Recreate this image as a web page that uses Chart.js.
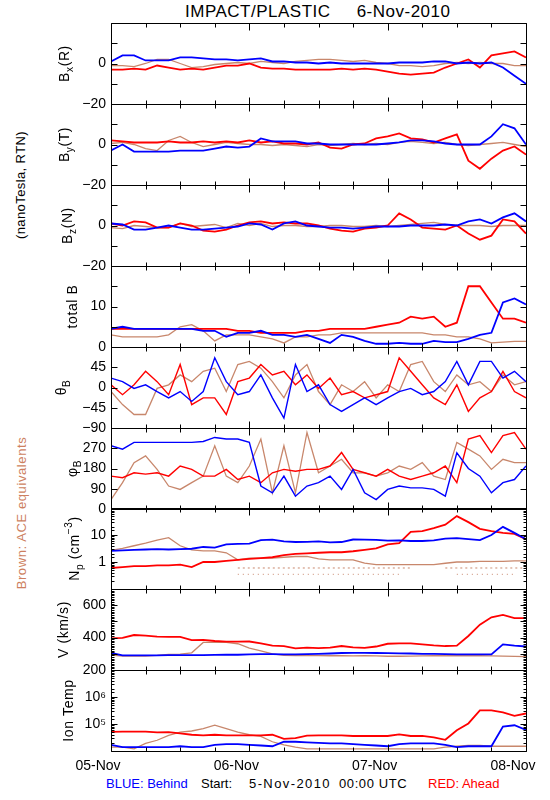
<!DOCTYPE html>
<html>
<head>
<meta charset="utf-8">
<script src="https://cdn.jsdelivr.net/npm/chart.js@4.4.1/dist/chart.umd.min.js"></script>
<style>
  body { margin: 0; background: #fff; }
  #page { position: relative; width: 550px; height: 800px; background: #fff; overflow: hidden;
          font-family: 'Liberation Sans', Arial, sans-serif; color: #000; }
  #page canvas { position: absolute; left: 0; }
  .txt { position: absolute; white-space: pre; font-size: 13px; line-height: 13px; }
  .vtxt { position: absolute; white-space: pre; font-size: 13px; line-height: 13px;
          transform: translate(-50%, -50%) rotate(-90deg); }
</style>
</head>
<body>
<div id="page">
  <div class="txt" style="left:185px;top:3px;font-size:17px;line-height:17px;letter-spacing:0.5px;">IMPACT/PLASTIC     6-Nov-2010</div>
  <div class="vtxt" style="left:20px;top:185px;letter-spacing:0.4px;">(nanoTesla, RTN)</div>
  <div class="vtxt" style="left:21px;top:513px;letter-spacing:0.6px;color:#cd7f5f;">Brown: ACE equivalents</div>
  <div class="txt" style="left:106px;top:777px;color:#0000ff;">BLUE: Behind</div>
  <div class="txt" style="left:201px;top:777px;">Start:</div>
  <div class="txt" style="left:249px;top:777px;letter-spacing:1.4px;">5-Nov-2010</div>
  <div class="txt" style="left:339px;top:777px;letter-spacing:0.6px;">00:00 UTC</div>
  <div class="txt" style="left:428px;top:777px;color:#ff0000;">RED: Ahead</div>
</div>
<script>
(function(){
  'use strict';

  // hours since 5-Nov-2010 00:00 UTC
  const hours = [0,2,4,6,8,10,12,14,16,18,20,22,24,26,28,30,32,34,36,38,40,42,44,46,48,50,52,54,56,58,60,62,64,66,68,70,72];
  const dayLabels = ['05-Nov', '06-Nov', '07-Nov', '08-Nov'];
  const xTickHours = [0,6,12,18,24,30,36,42,48,54,60,66,72];

  // B_x (R), nT
  const stbBx = [1,4,4,1.5,1.5,1.5,3,3,2.5,2,2,1.5,2,2.5,1,1,0.5,0.5,0,0.5,0,0,0,0,0,0.5,0.5,0.5,1,1,0,0.5,0,0.5,-2,-6,-10];
  const staBx = [-3,-3,-2.5,-3,-1,-2,-3,-2.5,-3,-2,-1,-1,0,-2,-2.5,-2.5,-3,-3,-3,-3,-2.5,-3,-2.5,-3,-4,-5,-5.5,-5,-4.5,-2,0,2,-2,4,5,6,3];
  const aceBx = [-1,-1,-1.5,0,2,2,0,-2,-1.5,-0.5,0,0.5,0,1,0.5,0,1,1.5,2,2,1.5,1,1.5,0.5,0,-1,-1,-1.5,-1,0,0.5,0,0.5,0,0,-1,-1];

  // B_y (T)
  const stbBy = [-3,0,-3.5,-3.5,-3.5,-3.5,-3,-3,-3,-2,-1,-1.5,-1,3,1.5,1.5,1.5,0.5,0.5,0,0,0,0,0,0.5,1,2,2,1.5,0.5,0,0,0,4,10,8,0];
  const staBy = [2,1.5,1,1,1,1.5,1,1,1.5,1,1.5,1,2,1,1.5,0.5,0.5,0,1,-1.5,-2,0,0.5,3,4,5.5,3,2.5,1,3,5,-8,-12,-7,-3,-1,-5];
  const aceBy = [0.5,1,0,-2,-3,2,4,1,-1,0,1,0.5,0,0,-0.5,0,-0.5,-1,0,-0.5,0,0.5,0,0.5,0,1,1.5,1,0.5,1,0,-0.5,0,0.5,1,0,-1];

  // B_z (N)
  const stbBz = [1,0.5,-2,-2,-1,0,-1,-2,-2,-1.5,-1,-0.5,1,0.5,-2,1,2,0,-0.5,-1,-1,-1.5,-1,-0.5,-0.5,-0.5,0,0,0,0.5,0,2,3,1,4,6,2];
  const staBz = [1,0,2,1.5,-1,-1,1,0,-2.5,-3,-2,0,1.5,2,1,1.5,1,1,0,-1.5,-2.5,-3,-1.5,-1,0,6,3,-1,-1.5,-2,0,-4,-7,-5,3,2,-4];
  const aceBz = [-1,-1.5,0,-0.5,-1,-1,1,-0.5,0,0.5,-1,1,0,1,-0.5,0,0,-0.5,-0.5,0,0,-0.5,-0.5,0,-0.5,0,0.5,1,1.5,0.5,0,0,0,-0.5,0,0,0];

  // total B
  const stbB = [4.5,5,4.5,4.5,4.5,4.5,4.5,4.5,4,4,2.5,3.5,3.5,4,3,3,2.5,3,2,1,3,2.5,1.5,0.8,0.8,1,0.8,0.8,1.5,1.2,1.2,2,3,3.5,11,12,10.5];
  const staB = [4.5,4.5,4.5,4.5,4.5,4.5,4.5,4.5,4.5,4.5,4.5,4,4,3.5,3.5,3.5,3.5,4,4,4.5,4.5,4.5,4.5,5,5.5,6,7.5,7,7.5,5,6,15,15,11,7,7,6];
  const aceB = [3,2.5,2.5,2.5,2.5,3,5,5.5,4,1.5,3,3,3,2.5,2,1,2.5,2.5,3,3,3.5,3.5,3.5,3.5,3.5,3.5,3.5,3.5,3,3,2.5,2.5,2,1,1.2,1.4,1.4];

  // theta_B, deg
  const stbTheta = [21,13,-2,6,-9,-23,-9,-31,-9,66,13,-16,-9,28,-23,-68,51,-9,6,-38,-53,-38,-23,-38,-23,-9,-2,-16,-9,13,58,6,58,58,21,36,13];
  const staTheta = [6,-16,6,36,13,-16,51,-38,-23,-23,-60,13,21,51,28,36,6,28,-2,21,-16,-9,-23,-16,-9,66,36,6,-23,-38,6,-53,-23,-9,36,-9,-23];
  const aceTheta = [-9,-38,-60,-60,-2,6,28,13,36,43,-9,51,58,43,13,-23,28,51,-9,-38,6,-9,13,-23,6,-9,51,58,13,-9,28,6,13,-9,28,6,13];

  // phi_B, deg
  const stbPhi = [281,266,296,296,296,296,296,296,300,318,311,311,296,102,72,146,57,102,117,146,87,176,72,42,87,102,94,94,87,57,250,180,146,72,117,131,191];
  const staPhi = [146,139,161,155,161,146,191,176,146,146,176,131,146,117,161,176,168,176,176,191,251,176,161,146,176,146,131,146,161,191,117,311,326,251,326,340,266];
  const acePhi = [42,117,206,236,176,102,87,117,146,281,146,117,191,311,72,281,72,340,161,191,221,161,161,146,161,191,176,206,146,131,296,266,236,176,221,206,206];

  // proton density, cm^-3
  const stbNp = [2.6,2.7,2.8,2.9,3,2.9,3,3.1,3.6,3.4,4.5,4.7,4.8,6.5,6.7,5.8,5.5,5.6,5.8,5.3,5.5,6.8,6.7,6.6,6.2,6.3,6,6,6.3,7.3,7.6,7,6.5,10,20,12,7];
  const staNp = [0.6,0.65,0.7,0.7,0.75,0.75,0.8,0.65,1,1,1.1,1.2,1.3,1.4,1.5,1.8,2,2.1,2.2,2.3,2.3,2.5,2.8,3.2,4.5,5,13,14,18,24,50,30,17,14,12,11,7];
  const aceNp = [2.7,3.2,4,5,6.5,8,4,2.8,2.6,2.6,2.2,1.2,1.4,1.4,1.4,1.5,1.6,1.6,1.3,1.2,1.2,1.2,0.9,0.8,0.8,0.8,0.8,0.8,0.8,0.9,1,1,1.05,1.05,1.05,1.1,1.1];
  const aceNpLowA = [null,null,null,null,null,null,null,null,null,null,null,0.6,0.6,0.6,0.6,0.6,0.6,0.6,0.6,0.6,0.6,0.6,0.6,0.6,0.6,0.6,0.6,null,null,0.6,0.6,0.6,0.6,0.6,0.6,0.6,0.6];
  const aceNpLowB = [null,null,null,null,null,null,null,null,null,null,null,0.35,0.35,0.35,0.35,0.35,0.35,0.35,0.35,0.35,0.35,0.35,0.35,0.35,0.35,0.35,null,null,null,null,0.35,0.35,0.35,0.35,0.35,0.35,null];

  // bulk speed, km/s
  const stbV = [305,290,290,290,290,292,292,292,292,293,294,294,296,298,298,297,297,298,300,302,305,306,306,305,304,303,302,300,300,298,296,296,296,296,358,350,345];
  const staV = [395,398,416,412,406,405,404,385,386,379,375,375,376,365,350,348,334,338,335,338,348,340,336,345,362,364,364,358,352,348,350,410,480,525,540,520,520];
  const aceV = [292,286,286,286,290,296,298,306,370,372,370,362,335,318,300,290,289,289,289,288,288,287,288,287,285,285,286,287,288,289,288,288,288,287,286,284,283];

  // ion temperature, K
  const stbT = [17e3,14e3,14e3,14e3,14e3,14e3,15e3,14e3,14e3,17e3,18e3,18e3,17e3,16e3,15e3,22e3,22e3,21e3,20e3,19e3,19e3,18e3,17e3,16e3,15e3,18e3,19e3,19e3,19e3,17e3,14e3,15e3,15e3,15e3,80e3,90e3,60e3];
  const staT = [51e3,52e3,52e3,52e3,49e3,50e3,45e3,40e3,38e3,40e3,38e3,38e3,38e3,38e3,40e3,28e3,30e3,37e3,38e3,38e3,38e3,36e3,36e3,36e3,36e3,41e3,36e3,36e3,32e3,26e3,59e3,105e3,320e3,320e3,270e3,200e3,245e3];
  const aceT = [14e3,14e3,12e3,19e3,25e3,38e3,50e3,55e3,68e3,90e3,68e3,50e3,40e3,35e3,22e3,17e3,14e3,12e3,12e3,12e3,12e3,12e3,12e3,12e3,12e3,12e3,12e3,12e3,12e3,14e3,15e3,16e3,16e3,15e3,15e3,15e3,15e3];

  const BLUE = '#0000ff', RED = '#ff0000', BROWN = '#c8876c';
  const FONT = "'Liberation Sans', Arial, sans-serif";
  const TOPS = [23, 104, 185, 266, 347, 428, 508, 589, 670];
  const PANEL_H = 81;
  const PAD = 14;
  const XAXIS_H = 24;
  const SUP = {'4':'\u2074','5':'\u2075','6':'\u2076','7':'\u2077'};

  const minus = v => v < 0 ? '\u2212' + Math.abs(v) : String(v);
  const isPow10 = v => Math.abs(Math.log10(v) - Math.round(Math.log10(v))) < 1e-6;

  function sets(blue, red, brown, bw, extra){
    let out = [
      {values: blue, color: BLUE, width: bw || 1.8},
      {values: red, color: RED, width: bw || 1.8},
      {values: brown, color: BROWN, width: 1.3}
    ];
    return out.concat(extra || []);
  }

  let vMinor = [];
  for (let v = 200; v <= 700; v += 10) vMinor.push(v);

  const panels = [
    {title: [{t:'B'},{t:'x',sub:1},{t:'(R)'}], titleX: 65, type: 'linear', min: -20, max: 20, step: 10,
     show: [0, -20], fmt: minus, series: sets(stbBx, staBx, aceBx)},
    {title: [{t:'B'},{t:'y',sub:1},{t:'(T)'}], titleX: 65, type: 'linear', min: -20, max: 20, step: 10,
     show: [0, -20], fmt: minus, series: sets(stbBy, staBy, aceBy)},
    {title: [{t:'B'},{t:'z',sub:1},{t:'(N)'}], titleX: 68, type: 'linear', min: -20, max: 20, step: 10,
     show: [0, -20], fmt: minus, series: sets(stbBz, staBz, aceBz)},
    {title: [{t:'total B'}], titleX: 73, type: 'linear', min: 0, max: 20, step: 5,
     show: [0, 10], fmt: minus, series: sets(stbB, staB, aceB)},
    {title: [{t:'\u03b8'},{t:'B',sub:1}], titleX: 62, type: 'linear', min: -90, max: 90, step: 45,
     show: [45, 0, -45, -90], fmt: minus, series: sets(stbTheta, staTheta, aceTheta, 1.4)},
    {title: [{t:'\u03c6'},{t:'B',sub:1}], titleX: 73, type: 'linear', min: 0, max: 360, step: 90,
     show: [270, 180, 90, 0], fmt: minus, series: sets(stbPhi, staPhi, acePhi, 1.4)},
    {title: [{t:'N'},{t:'p',sub:1},{t:' (cm'},{t:'\u22123',sup:1},{t:')'}], titleX: 75, type: 'logarithmic', min: 0.1, max: 100,
     show: [1, 10], fmt: v => String(Math.round(v)),
     series: sets(stbNp, staNp, aceNp, 1.8, [
       {values: aceNpLowA, color: BROWN, width: 1, dash: [2, 3]},
       {values: aceNpLowB, color: BROWN, width: 1, dash: [1, 4]}
     ])},
    {title: [{t:'V (km/s)'}], titleX: 64, type: 'linear', min: 200, max: 700, step: 100,
     show: [200, 400, 600], fmt: minus, minor: vMinor, series: sets(stbV, staV, aceV)},
    {title: [{t:'Ion Temp'}], titleX: 69, type: 'logarithmic', min: 1e4, max: 1e7,
     show: [1e5, 1e6], fmt: v => '10' + SUP[String(Math.round(Math.log10(v)))],
     series: sets(stbT, staT, aceT)}
  ];

  function shown(p, v){
    return p.show.some(s => Math.abs(s - v) <= Math.abs(s) * 1e-6 + 1e-9);
  }

  function drawVertical(ctx, segs, cx, cy, size){
    ctx.save();
    ctx.translate(cx, cy);
    ctx.rotate(-Math.PI / 2);
    if ('letterSpacing' in ctx) ctx.letterSpacing = '0.6px';
    let total = 0;
    const parts = segs.map(s => {
      const fs = (s.sub || s.sup) ? Math.round(size * 0.72) : size;
      ctx.font = fs + 'px ' + FONT;
      const w = ctx.measureText(s.t).width;
      total += w;
      return {s: s, fs: fs, w: w};
    });
    let x = -total / 2;
    ctx.textBaseline = 'middle';
    ctx.fillStyle = '#000';
    parts.forEach(pt => {
      ctx.font = pt.fs + 'px ' + FONT;
      const dy = pt.s.sub ? size * 0.38 : (pt.s.sup ? -size * 0.4 : 0);
      ctx.fillText(pt.s.t, x, dy);
      x += pt.w;
    });
    ctx.restore();
  }

  // IDL style frame: box round the plot, ticks pointing inwards on all four sides
  const idlFrame = {
    id: 'idlFrame',
    afterDatasetsDraw(chart, args, opts){
      const p = opts.panel;
      if (!p) return;
      const ctx = chart.ctx, a = chart.chartArea;
      const xs = chart.scales.x, ys = chart.scales.y;
      const L = Math.round(a.left) + 0.5, R = Math.round(a.right) + 0.5;
      const T = Math.round(a.top) + 0.5, B = Math.round(a.bottom) + 0.5;
      ctx.save();
      ctx.strokeStyle = '#000';
      ctx.lineWidth = 1;
      ctx.beginPath();
      ctx.rect(L, T, R - L, B - T);
      xTickHours.forEach(h => {
        const px = Math.round(xs.getPixelForValue(h)) + 0.5;
        const len = h % 24 === 0 ? 7 : 4;
        ctx.moveTo(px, T); ctx.lineTo(px, T + len);
        ctx.moveTo(px, B); ctx.lineTo(px, B - len);
      });
      const yTick = (v, len) => {
        const py = Math.round(ys.getPixelForValue(v)) + 0.5;
        ctx.moveTo(L, py); ctx.lineTo(L + len, py);
        ctx.moveTo(R, py); ctx.lineTo(R - len, py);
      };
      ys.ticks.forEach(t => {
        const major = p.type === 'logarithmic' ? isPow10(t.value) : true;
        yTick(t.value, major ? 6 : 3);
      });
      (p.minor || []).forEach(v => yTick(v, 3));
      ctx.stroke();
      drawVertical(ctx, p.title, p.titleX, (a.top + a.bottom) / 2, 14);
      ctx.restore();
    }
  };

  const page = document.getElementById('page');

  panels.forEach((p, i) => {
    const last = i === panels.length - 1;
    const canvas = document.createElement('canvas');
    const h = PAD + PANEL_H + (last ? XAXIS_H : PAD);
    canvas.width = 550;
    canvas.height = h;
    canvas.style.width = '550px';
    canvas.style.height = h + 'px';
    canvas.style.top = (TOPS[i] - PAD) + 'px';
    page.appendChild(canvas);

    new Chart(canvas.getContext('2d'), {
      type: 'line',
      data: {
        datasets: p.series.map(s => ({
          data: hours.map((hr, k) => ({x: hr, y: s.values[k]})),
          borderColor: s.color,
          borderWidth: s.width,
          borderDash: s.dash || [],
          pointRadius: 0,
          fill: false,
          tension: 0,
          spanGaps: false
        }))
      },
      options: {
        responsive: false,
        animation: false,
        devicePixelRatio: 1,
        layout: {padding: {top: PAD, bottom: last ? 2 : PAD, left: 0, right: 24}},
        plugins: {
          legend: {display: false},
          tooltip: {enabled: false},
          idlFrame: {panel: p}
        },
        scales: {
          x: {
            type: 'linear', min: 0, max: 72, display: last,
            grid: {display: false, drawTicks: false},
            border: {display: false},
            ticks: {
              stepSize: 24, autoSkip: false, maxRotation: 0, padding: 7, labelOffset: -13,
              color: '#000', font: {family: FONT, size: 14},
              callback: v => dayLabels[v / 24] || ''
            },
            afterFit: s => {
              s.height = last ? XAXIS_H - 2 : 0;
              s.paddingLeft = 0;
              s.paddingRight = 0;
            }
          },
          y: {
            type: p.type, min: p.min, max: p.max,
            grid: {display: false, drawTicks: false},
            border: {display: false},
            ticks: {
              stepSize: p.step, autoSkip: false, padding: 5,
              color: '#000', font: {family: FONT, size: 14},
              callback: v => shown(p, v) ? p.fmt(v) : ''
            },
            afterFit: s => { s.width = 111; s.paddingTop = 0; s.paddingBottom = 0; }
          }
        }
      },
      plugins: [idlFrame]
    });
  });
})();
</script>
</body>
</html>
